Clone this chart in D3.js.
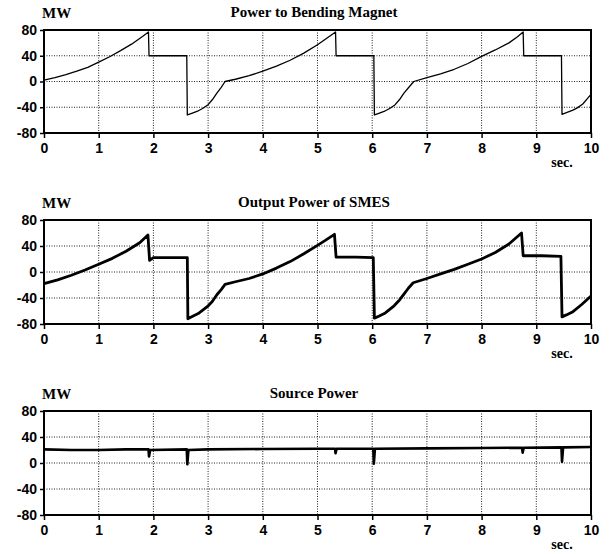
<!doctype html>
<html>
  <head>
    <meta charset="utf-8">
    <script src="https://cdnjs.cloudflare.com/ajax/libs/d3/7.8.5/d3.min.js" type="text/JavaScript"></script>
    <style>
      body { margin: 0; background: #fff; }
      .tick text { font-family: "Liberation Sans", Arial, sans-serif; font-weight: bold; font-size: 14px; fill: #000; }
      .lbl { font-family: "Liberation Serif", "Times New Roman", serif; font-weight: bold; fill: #000; }
    </style>
  </head>
  <body>
    <svg style="height: 554px; width: 612px;"></svg>
    <script>

      var xTicks = [0, 1, 2, 3, 4, 5, 6, 7, 8, 9, 10];
      var yTicks = [80, 40, 0, -40, -80];
      var titles = ["Power to Bending Magnet", "Output Power of SMES", "Source Power"];

      // [sec, MW]
      var bendingPower = [
        [0,2],[0.2,6],[0.4,10.5],[0.6,16],[0.8,22],[1.0,30],[1.2,38.5],[1.4,48],[1.6,58],[1.8,70],[1.91,77],
        [1.92,40],[2.61,40],[2.62,-52],[2.7,-49.5],[2.82,-45.5],[2.9,-42],[3.0,-36],[3.08,-28],[3.16,-18],[3.24,-9],[3.31,0],
        [3.5,3.5],[3.75,9],[4.0,16],[4.25,24],[4.5,33],[4.75,44],[5.0,57],[5.15,66],[5.33,77],
        [5.34,40],[6.03,40],[6.04,-52],[6.12,-49.5],[6.24,-45.5],[6.32,-42],[6.42,-36],[6.5,-28],[6.58,-18],[6.67,-9],[6.76,0],
        [7.0,6],[7.25,12],[7.5,19],[7.75,28],[8.0,39],[8.25,49],[8.5,60],[8.65,69],[8.76,77],
        [8.77,40],[9.46,40],[9.47,-51],[9.55,-48.5],[9.67,-44.5],[9.75,-41],[9.85,-35],[9.93,-27],[10,-20]
      ];

      var smesPower = [
        [0,-18],[0.25,-12],[0.5,-5],[0.75,3],[1.0,12],[1.25,21],[1.5,32],[1.75,45],[1.9,57],
        [1.93,18],[2.0,22],[2.3,22],[2.62,22],[2.63,-72],[2.7,-69],[2.82,-64],[2.99,-53],[3.08,-45],[3.16,-35],[3.24,-27],[3.31,-19],
        [3.5,-15],[3.75,-10],[4.0,-3],[4.25,6],[4.5,16],[4.75,28],[5.0,41],[5.15,49],[5.31,58],
        [5.34,23],[5.7,23],[6.02,22],[6.04,-71],[6.12,-68],[6.24,-63],[6.4,-52],[6.5,-43],[6.58,-34],[6.66,-25],[6.75,-16.5],
        [7.0,-10],[7.25,-3],[7.5,4],[7.75,12],[8.0,20],[8.25,30],[8.5,43],[8.73,60],
        [8.76,25],[9.1,25],[9.45,24],[9.47,-69],[9.55,-66],[9.67,-61],[9.83,-50],[9.92,-43],[10,-37]
      ];

      var sourcePower = [
        [0,21],[0.5,20],[1.0,20],[1.5,21],[1.91,21],[1.92,10],[1.94,20],
        [2.61,21],[2.62,-2],[2.64,20],[3.0,21],[4.0,21.5],[5.0,22],
        [5.32,22],[5.33,15],[5.35,22],[6.02,22],[6.03,-1],[6.05,22],
        [7.0,22.5],[8.0,23],[8.74,23.5],[8.75,16],[8.77,23.5],
        [9.46,24],[9.47,2],[9.49,24],[10,24.5]
      ];

      var panels = [
        {data: bendingPower, top: 30,  bottom: 133, width: 1.3},
        {data: smesPower,    top: 220, bottom: 324, width: 2.8},
        {data: sourcePower,  top: 411, bottom: 515, width: 2.6}
      ];

      var svg = d3.select("svg");
      var left = 44, right = 591;

      var x = d3.scaleLinear().domain([0, 10]).range([left, right]);

      panels.forEach(function(p, i) {
        var y = d3.scaleLinear().domain([-80, 80]).range([p.bottom, p.top]);
        var g = svg.append("g");

        // dotted grid
        g.selectAll("line.vg").data(xTicks.slice(1, -1))
          .enter().append("line")
            .attr("x1", d => x(d)).attr("x2", d => x(d))
            .attr("y1", p.top).attr("y2", p.bottom)
            .style("stroke", "#222").style("stroke-width", 1)
            .style("stroke-dasharray", "1,1.5");
        g.selectAll("line.hg").data(yTicks.slice(1, -1))
          .enter().append("line")
            .attr("x1", left).attr("x2", right)
            .attr("y1", d => y(d)).attr("y2", d => y(d))
            .style("stroke", "#222").style("stroke-width", 1)
            .style("stroke-dasharray", "1,1.5");

        // axes
        var xa = g.append("g")
          .attr("transform", "translate(0," + p.bottom + ")")
          .call(d3.axisBottom(x).tickValues(xTicks).tickSize(5).tickPadding(5).tickFormat(d => String(d)));
        xa.select(".domain").remove();
        xa.selectAll("line").style("stroke-width", 1.5);

        var ya = g.append("g")
          .attr("transform", "translate(" + left + ",0)")
          .call(d3.axisLeft(y).tickValues(yTicks).tickSize(4).tickPadding(3).tickFormat(d => String(d)));
        ya.select(".domain").remove();
        ya.selectAll("line").style("stroke-width", 1.5);

        // frame
        g.append("rect")
          .attr("x", left).attr("y", p.top)
          .attr("width", right - left).attr("height", p.bottom - p.top)
          .style("fill", "none").style("stroke", "#000").style("stroke-width", 2);

        // trace
        var line = d3.line().x(d => x(d[0])).y(d => y(d[1]));
        g.append("path")
          .datum(p.data)
          .attr("d", line)
          .style("fill", "none").style("stroke", "#000")
          .style("stroke-width", p.width).style("stroke-linejoin", "round");

        // labels
        g.append("text").attr("class", "lbl")
          .attr("x", 42).attr("y", p.top - 12)
          .style("font-size", "15px")
          .text("MW");
        g.append("text").attr("class", "lbl")
          .attr("x", 314).attr("y", p.top - 13)
          .attr("text-anchor", "middle")
          .style("font-size", "15px")
          .text(titles[i]);
        g.append("text").attr("class", "lbl")
          .attr("x", 562).attr("y", p.bottom + 34)
          .attr("text-anchor", "middle")
          .style("font-size", "14px")
          .text("sec.");
      });
    </script>
  </body>
</html>
